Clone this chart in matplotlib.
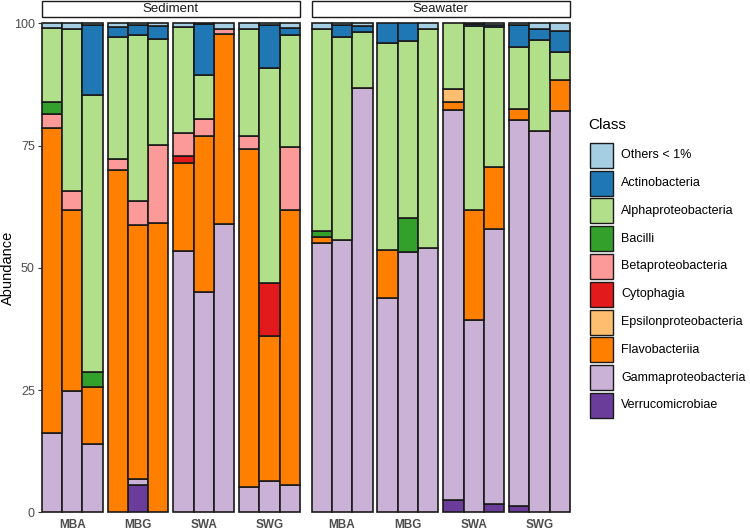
import numpy as np
import matplotlib.pyplot as plt
from matplotlib.patches import Rectangle
import matplotlib.transforms as mtransforms

plt.rcParams['font.family'] = ['Liberation Sans', 'DejaVu Sans']

# Data: 2 habitats x 4 sites x 3 replicates, relative abundance (%)
habitats = ["Sediment", "Seawater"]
sites = ["MBA", "MBG", "SWA", "SWG"]

# stacking order, bottom -> top
classes = ["Verrucomicrobiae", "Gammaproteobacteria", "Flavobacteriia",
           "Epsilonproteobacteria", "Cytophagia", "Betaproteobacteria",
           "Bacilli", "Alphaproteobacteria", "Actinobacteria", "Others < 1%"]
colors = ["#6A3D9A", "#CAB2D6", "#FF7F00", "#FDBF6F", "#E31A1C",
          "#FB9A99", "#33A02C", "#B2DF8A", "#1F78B4", "#A6CEE3"]

#            |------------------- Sediment -------------------|   |------------------- Seawater -------------------|
verruco   = [0, 0, 0,   0, 5.5, 0,   0, 0, 0,   0, 0, 0,          0, 0, 0,   0, 0, 0,   2.5, 0, 1.6,   1.2, 0, 0]
gamma     = [16.3, 24.9, 14.0,  0, 1.4, 0,  53.5, 45.1, 58.9,  5.2, 6.4, 5.6,
             55.0, 55.7, 86.7,  43.8, 53.2, 54.1,  79.8, 39.3, 56.3,  79.0, 78.0, 82.1]
flavo     = [62.2, 37.0, 11.7,  70.1, 51.9, 59.1,  17.9, 31.9, 39.0,  69.0, 29.7, 56.2,
             1.3, 0, 0,  9.8, 0, 0,  1.7, 22.6, 12.7,  2.3, 0, 6.3]
epsilon   = [0, 0, 0,   0, 0, 0,   0, 0, 0,   0, 0, 0,          0, 0, 0,   0, 0, 0,   2.5, 0, 0,   0, 0, 0]
cyto      = [0, 0, 0,   0, 0, 0,   1.5, 0, 0,   0, 10.7, 0,       0, 0, 0,   0, 0, 0,   0, 0, 0,   0, 0, 0]
beta      = [2.9, 3.8, 0,  2.2, 4.9, 16.1,  4.7, 3.4, 1.0,  2.8, 0, 13.0,
             0, 0, 0,  0, 0, 0,  0, 0, 0,  0, 0, 0]
bacilli   = [2.6, 0, 2.9,  0, 0, 0,  0, 0, 0,  0, 0, 0,
             1.2, 0, 0,  0, 6.9, 0,  0, 0, 0,  0, 0, 0]
alpha     = [15.0, 33.1, 56.8,  25.0, 34.0, 21.5,  21.7, 9.1, 0,  21.8, 44.0, 22.9,
             41.4, 41.6, 11.5,  42.4, 36.2, 44.7,  13.5, 37.6, 28.7,  12.6, 18.6, 5.8]
actino    = [0, 0, 14.3,  2.0, 2.0, 2.8,  0, 10.3, 0,  0, 8.9, 1.4,
             0, 2.4, 1.2,  4.0, 3.7, 0,  0, 0.3, 0.4,  4.6, 2.2, 4.2]
others    = [1.0, 1.2, 0.3,  0.7, 0.3, 0.5,  0.7, 0.2, 1.1,  1.2, 0.3, 0.9,
             1.1, 0.3, 0.6,  0, 0, 1.2,  0, 0.2, 0.3,  0.3, 1.2, 1.6]

values = [verruco, gamma, flavo, epsilon, cyto, beta, bacilli, alpha, actino, others]

# x layout (in bar-width units)
group_gap = 0.24
facet_gap = 0.57
group_w = 3 + group_gap
facet_w = 4 * group_w - group_gap + facet_gap

lefts = []
for f in range(2):
    for g in range(4):
        for b in range(3):
            lefts.append(f * facet_w + g * group_w + b)
x = np.array(lefts) + 0.5

edge = "#1a1a1a"
fig = plt.figure(figsize=(7.5, 5.31), dpi=100)
W, H = 750, 531
ax = fig.add_axes([41.7 / W, (H - 512.3) / H, (570 - 41.7) / W, (512.3 - 23.3) / H])

bottom = np.zeros(len(x))
for cls, col, vals in zip(classes, colors, values):
    vals = np.array(vals, dtype=float)
    m = vals > 0
    ax.bar(x[m], vals[m], bottom=bottom[m], width=1.0, color=col,
           edgecolor=edge, linewidth=1.2, clip_on=False)
    bottom += vals

xmax = facet_w + 4 * group_w - group_gap
ax.set_xlim(0, xmax)
ax.set_ylim(0, 100)
for s in ax.spines.values():
    s.set_visible(False)

ax.set_yticks([0, 25, 50, 75, 100])
ax.tick_params(axis="y", length=3, width=0.8, color="#333333", labelsize=9,
               labelcolor="#4d4d4d", pad=2)
centers = [f * facet_w + g * group_w + 1.5 for f in range(2) for g in range(4)]
ax.set_xticks(centers)
ax.set_xticklabels(sites * 2, fontsize=8.5, fontweight="bold", color="#4d4d4d")
ax.tick_params(axis="x", length=0, pad=4.5)
ax.set_ylabel("Abundance", fontsize=10.5)
ax.yaxis.set_label_coords(-0.05, 0.5)

# facet strips
trans = mtransforms.blended_transform_factory(ax.transData, ax.transAxes)
strip_y0 = 1 + (23.3 - 16.5) / (512.3 - 23.3)
strip_h = 15.5 / (512.3 - 23.3)
for f, hab in enumerate(habitats):
    x0 = f * facet_w
    x1 = x0 + 4 * group_w - group_gap
    ax.add_patch(Rectangle((x0, strip_y0), x1 - x0, strip_h, transform=trans,
                           facecolor="white", edgecolor=edge, linewidth=1.0,
                           clip_on=False))
    ax.text((x0 + x1) / 2, strip_y0 + strip_h / 2, hab, transform=trans,
            ha="center", va="center", fontsize=9.5, color="#1a1a1a")

# legend (top to bottom = reverse stacking), laid out in figure pixels
fig.text(588 / W, 1 - 125 / H, "Class", fontsize=11, ha="left", va="center")
key_w, key_h, step = 23, 25, 27.8
for i, (lab, col) in enumerate(zip(classes[::-1], colors[::-1])):
    yc = 155.3 + i * step
    fig.patches.append(Rectangle((589.5 / W, 1 - (yc + key_h / 2) / H),
                                 key_w / W, key_h / H, transform=fig.transFigure,
                                 facecolor=col, edgecolor=edge, linewidth=1.0))
    fig.text(621 / W, 1 - yc / H, lab, fontsize=9, ha="left", va="center")

fig.savefig("out.png", dpi=100)
